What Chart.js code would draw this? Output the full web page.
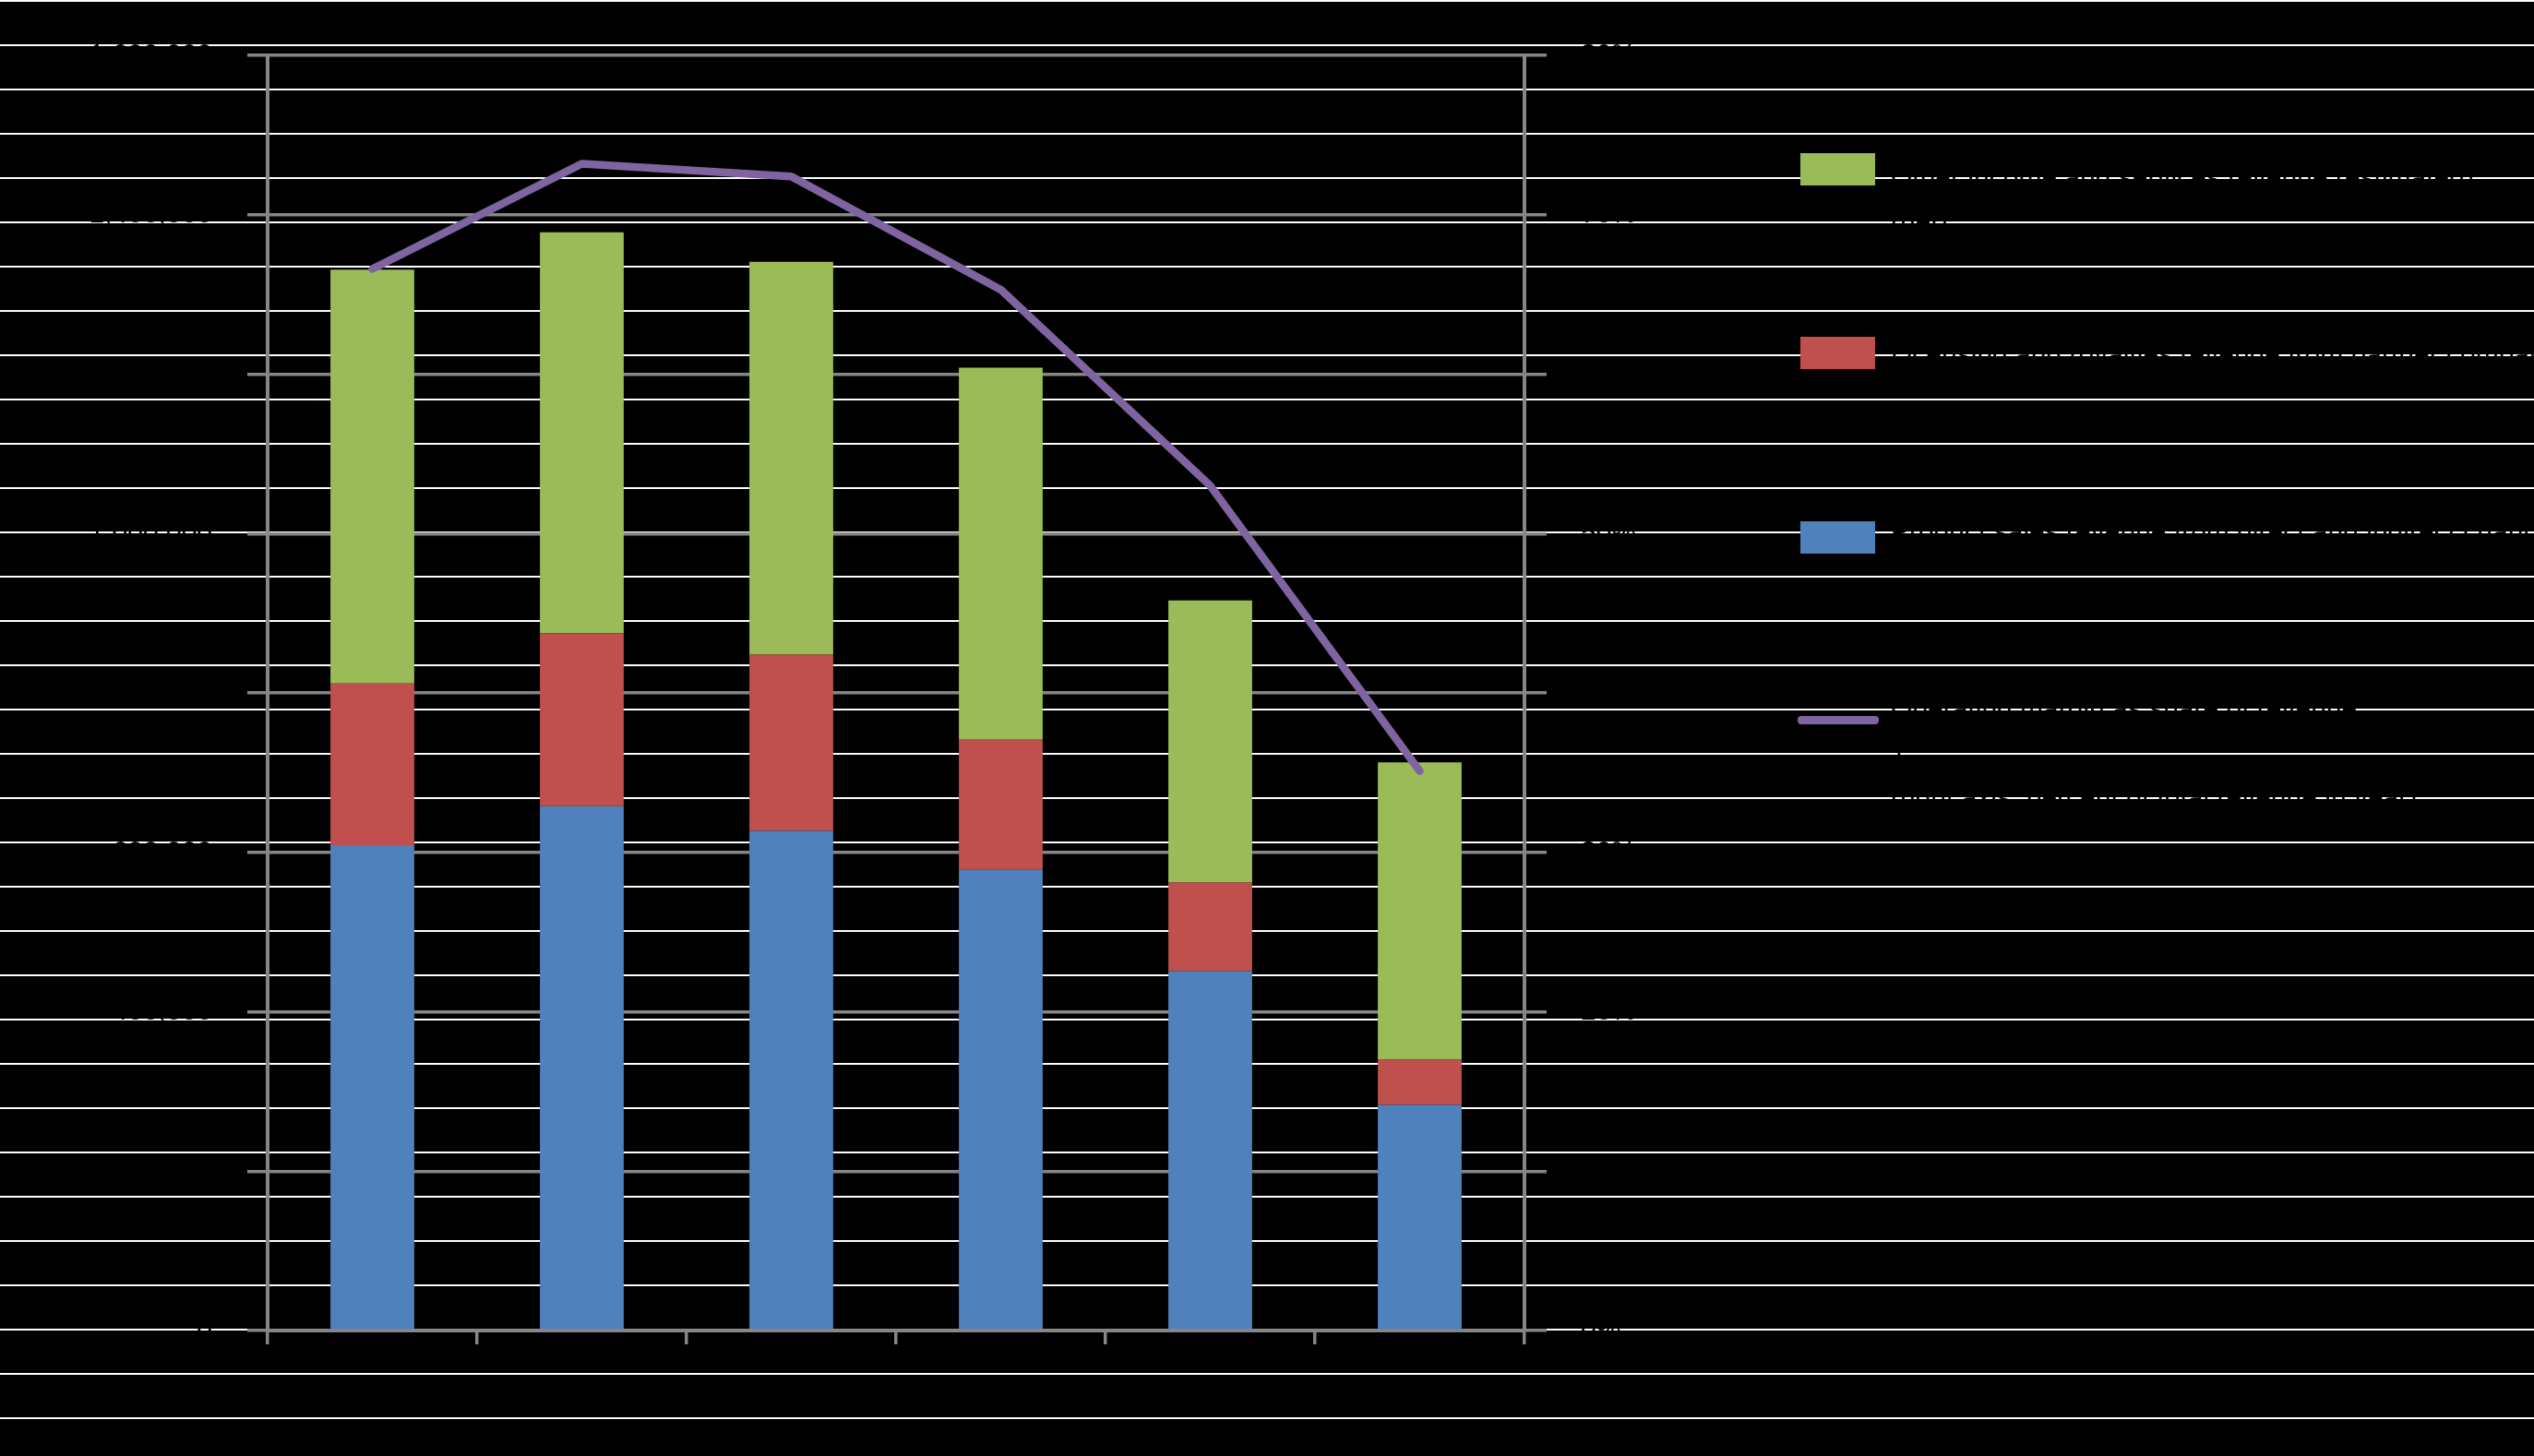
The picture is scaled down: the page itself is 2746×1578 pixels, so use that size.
<!DOCTYPE html>
<html>
<head>
<meta charset="utf-8">
<script src="https://cdn.jsdelivr.net/npm/chart.js@4/dist/chart.umd.min.js"></script>
<style>
  html, body {
    margin: 0;
    padding: 0;
    width: 2746px;
    height: 1578px;
    overflow: hidden;
    /* black page with thin white rules every 48px, as in the reference */
    background-color: #000;
    background-image: repeating-linear-gradient(to bottom, #fff 0px, #fff 2px, transparent 2px, transparent 48px);
  }
  #wrap { position: absolute; left: 0; top: 0; width: 2746px; height: 1578px; }
  #legend { position: absolute; left: 0; top: 0; }
  .swatch { position: absolute; }
  .ltext {
    position: absolute;
    font-family: "Liberation Sans", sans-serif;
    font-size: 30px;
    line-height: 48px;
    color: #000;
    white-space: nowrap;
  }
</style>
</head>
<body>
<div id="wrap">
  <canvas id="chart" width="2746" height="1578"></canvas>
  <div id="legend"></div>
</div>
<script>
// @ts-check

// ---- data ----
const categories = ["2006", "2007", "2008", "2009", "2010", "2011"];
const blueValues = [609000, 658000, 627000, 578000, 451000, 283000];
const redValues = [203000, 217000, 221000, 164000, 111000, 57000];
const greenValues = [519000, 503000, 493000, 466000, 354000, 373000];
const lineValues = [0.666, 0.732, 0.724, 0.653, 0.530, 0.351];

const leftTicks = { min: 0, max: 1600000, step: 200000 };
const rightTicks = { min: 0, max: 0.8, step: 0.1 };

const seriesNames = {
  green: ["Other income and services revenue (estimated)", "(net)"],
  red: ["Licensing and royalties revenue from partner companies"],
  blue: ["Product sales revenue from direct and indirect channels"],
  line: ["Operating margin as share of revenue", "1", "(right axis, percent of total revenue in year)"],
};

const COLORS = {
  blue: "#4F81BD",
  red: "#C0504D",
  green: "#9BBB59",
  line: "#8064A2",
  axis: "#868686",
};

Chart.defaults.font.family = "'Liberation Sans', sans-serif";
Chart.defaults.font.size = 30;
Chart.defaults.color = "#000";

const canvas = /** @type {HTMLCanvasElement} */ (document.getElementById("chart"));

new Chart(canvas, {
  type: "bar",
  data: {
    labels: categories,
    datasets: [
      { label: seriesNames.blue.join(" "), data: blueValues, backgroundColor: COLORS.blue, stack: "s", order: 1 },
      { label: seriesNames.red.join(" "), data: redValues, backgroundColor: COLORS.red, stack: "s", order: 1 },
      { label: seriesNames.green.join(" "), data: greenValues, backgroundColor: COLORS.green, stack: "s", order: 1 },
      {
        type: "line",
        label: seriesNames.line.join(" "),
        data: lineValues,
        yAxisID: "y1",
        borderColor: COLORS.line,
        backgroundColor: COLORS.line,
        borderWidth: 8.5,
        borderJoinStyle: "round",
        borderCapStyle: "round",
        pointRadius: 0,
        tension: 0,
        order: 0,
      },
    ],
  },
  options: {
    responsive: false,
    animation: false,
    datasets: { bar: { barPercentage: 0.4, categoryPercentage: 1 } },
    layout: { padding: { left: 0, top: 60, right: 894, bottom: 36 } },
    scales: {
      x: {
        stacked: true,
        offset: true,
        z: 1,
        grid: {
          offset: true,
          drawOnChartArea: false,
          drawTicks: true,
          tickLength: 15,
          color: COLORS.axis,
          lineWidth: 3.5,
        },
        border: { color: COLORS.axis, width: 4 },
        ticks: { padding: 40, color: "#000" },
        afterFit: (s) => { s.height = 100; },
      },
      y: {
        stacked: true,
        position: "left",
        min: leftTicks.min,
        max: leftTicks.max,
        grid: { color: COLORS.axis, lineWidth: 3.5, tickLength: 22, tickWidth: 3.5 },
        border: { color: COLORS.axis, width: 4 },
        ticks: {
          stepSize: leftTicks.step,
          padding: 38,
          color: "#000",
          callback: (v) => Number(v).toLocaleString("en-US"),
        },
        afterFit: (s) => { s.width = 290; },
      },
      y1: {
        position: "right",
        min: rightTicks.min,
        max: rightTicks.max,
        grid: {
          drawOnChartArea: false,
          color: COLORS.axis,
          lineWidth: 3.5,
          tickLength: 24,
          tickWidth: 3.5,
        },
        border: { color: COLORS.axis, width: 4 },
        ticks: {
          stepSize: rightTicks.step,
          padding: 37,
          color: "#000",
          callback: (v) => Math.round(Number(v) * 100) + "%",
        },
        afterFit: (s) => { s.width = 200; },
      },
    },
    plugins: {
      legend: { display: false },
      tooltip: { enabled: false },
    },
  },
});

// ---- legend (HTML, beside the plot) ----
const legendEl = /** @type {HTMLElement} */ (document.getElementById("legend"));
const legendItems = [
  { key: "green", kind: "box", boxTop: 166, textTop: 168 },
  { key: "red", kind: "box", boxTop: 365, textTop: 360 },
  { key: "blue", kind: "box", boxTop: 565, textTop: 552 },
  { key: "line", kind: "line", boxTop: 776, textTop: 744 },
];
for (const item of legendItems) {
  const sw = document.createElement("div");
  sw.className = "swatch";
  sw.style.background = COLORS[item.key];
  if (item.kind === "box") {
    Object.assign(sw.style, { left: "1951px", top: item.boxTop + "px", width: "81px", height: "35px" });
  } else {
    Object.assign(sw.style, { left: "1948px", top: item.boxTop + "px", width: "88px", height: "9px", borderRadius: "4px" });
  }
  legendEl.appendChild(sw);
  const tx = document.createElement("div");
  tx.className = "ltext";
  tx.style.left = "2049px";
  tx.style.top = item.textTop + "px";
  tx.innerHTML = seriesNames[item.key].join("<br>");
  legendEl.appendChild(tx);
}
</script>
</body>
</html>
